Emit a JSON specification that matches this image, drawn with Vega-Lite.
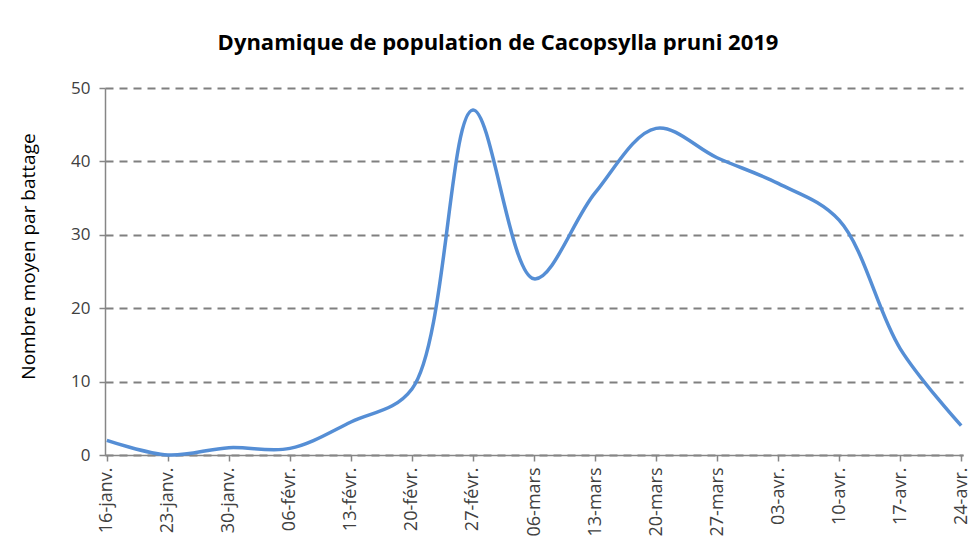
{
  "$schema": "https://vega.github.io/schema/vega-lite/v6.json",
  "width": 858,
  "height": 367,
  "autosize": "none",
  "padding": {"left": 105, "top": 88, "right": 14, "bottom": 96},
  "background": "white",
  "title": {
    "text": "Dynamique de population de Cacopsylla pruni 2019",
    "font": "Open Sans",
    "fontSize": 22,
    "fontWeight": "bold",
    "color": "#000000",
    "anchor": "middle",
    "dx": -36,
    "offset": 24
  },
  "data": {
    "values": [
      {"date": "16-janv.", "n": 2.0},
      {"date": "23-janv.", "n": 0.0},
      {"date": "30-janv.", "n": 1.0},
      {"date": "06-févr.", "n": 0.9},
      {"date": "13-févr.", "n": 4.5},
      {"date": "20-févr.", "n": 9.0},
      {"date": "27-févr.", "n": 47.0},
      {"date": "06-mars", "n": 24.0},
      {"date": "13-mars", "n": 35.7},
      {"date": "20-mars", "n": 44.5},
      {"date": "27-mars", "n": 40.5},
      {"date": "03-avr.", "n": 37.0},
      {"date": "10-avr.", "n": 32.0},
      {"date": "17-avr.", "n": 14.5},
      {"date": "24-avr.", "n": 4.0}
    ]
  },
  "mark": {"type": "line", "interpolate": "catmull-rom", "color": "#558ED5", "strokeWidth": 3.5},
  "encoding": {
    "x": {
      "field": "date",
      "type": "ordinal",
      "sort": null,
      "scale": {"type": "point", "padding": 0.03},
      "axis": {
        "title": null,
        "labelAngle": -90,
        "labelAlign": "right",
        "labelBaseline": "middle",
        "labelFont": "Open Sans",
        "labelFontSize": 18,
        "labelColor": "#404040",
        "labelPadding": 6,
        "domainColor": "#868686",
        "domainWidth": 1.5,
        "tickColor": "#868686",
        "tickSize": 6,
        "tickWidth": 1.5,
        "grid": false
      }
    },
    "y": {
      "field": "n",
      "type": "quantitative",
      "scale": {"domain": [0, 50], "nice": false},
      "axis": {
        "title": "Nombre moyen par battage",
        "titleFont": "Open Sans",
        "titleFontSize": 19,
        "titleFontWeight": "normal",
        "titleColor": "#000000",
        "titlePadding": 32,
        "titleY": 168,
        "values": [0, 10, 20, 30, 40, 50],
        "labelFont": "Open Sans",
        "labelFontSize": 17,
        "labelColor": "#404040",
        "labelPadding": 9,
        "domainColor": "#868686",
        "domainWidth": 1.5,
        "tickColor": "#868686",
        "tickSize": 6,
        "tickWidth": 1.5,
        "grid": true,
        "gridColor": "#808080",
        "gridWidth": 2,
        "gridDash": [8, 6]
      }
    }
  },
  "config": {"view": {"stroke": null}}
}
